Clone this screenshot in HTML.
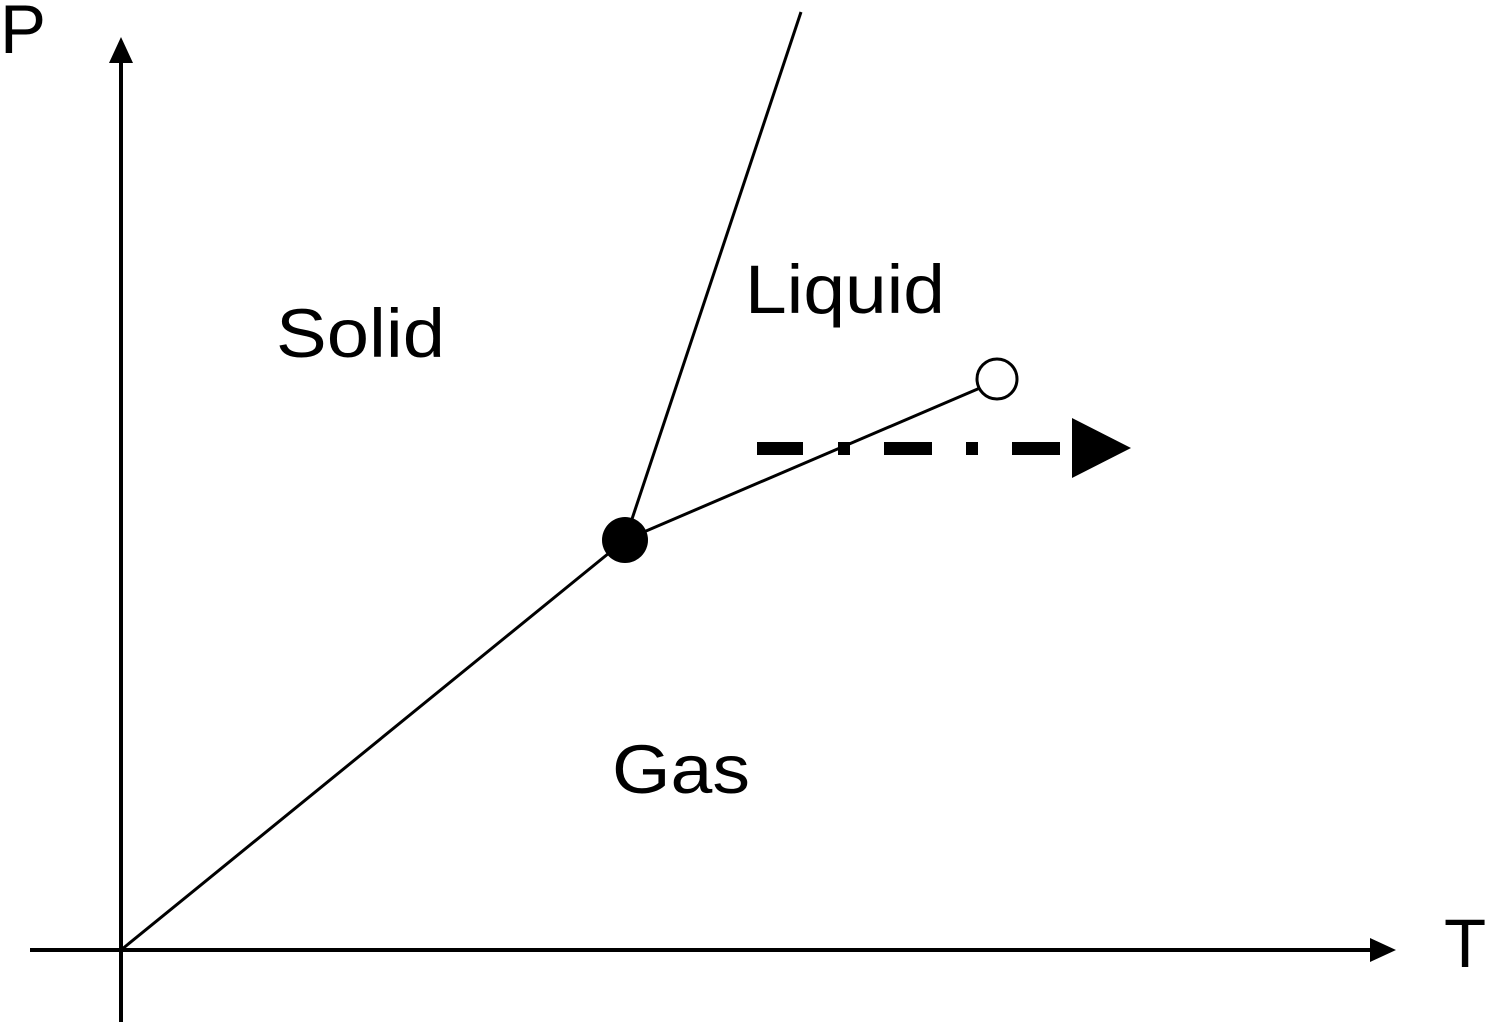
<!DOCTYPE html>
<html><head><style>html,body{margin:0;padding:0;background:#fff}svg{display:block}</style></head>
<body>
<svg width="1487" height="1024" viewBox="0 0 1487 1024" xmlns="http://www.w3.org/2000/svg" font-family="Liberation Sans, sans-serif">
<rect width="1487" height="1024" fill="#fff"/>
<line x1="121" y1="1022" x2="121" y2="60" stroke="#000" stroke-width="4"/>
<polygon points="121,37 109,63 133,63" fill="#000"/>
<line x1="30" y1="950" x2="1372" y2="950" stroke="#000" stroke-width="4"/>
<polygon points="1396,950 1370,938 1370,962" fill="#000"/>
<line x1="121" y1="950" x2="625" y2="540" stroke="#000" stroke-width="3"/>
<line x1="625" y1="540" x2="801" y2="12" stroke="#000" stroke-width="3"/>
<line x1="625" y1="540" x2="980" y2="388" stroke="#000" stroke-width="3"/>
<circle cx="625" cy="540" r="23" fill="#000"/>
<circle cx="997" cy="379" r="20" fill="#fff" stroke="#000" stroke-width="3"/>
<g fill="#000">
<rect x="757" y="442" width="46" height="13"/>
<rect x="838" y="442" width="12" height="13"/>
<rect x="884" y="442" width="48" height="13"/>
<rect x="966" y="442" width="12" height="13"/>
<rect x="1012" y="442" width="48" height="13"/>
<polygon points="1072,418 1131,448 1072,478"/>
</g>
<g font-size="69" fill="#000">
<text x="0" y="53">P</text>
<text x="1444" y="967">T</text>
<text x="276" y="357" textLength="169" lengthAdjust="spacingAndGlyphs">Solid</text>
<text x="745" y="313" textLength="200" lengthAdjust="spacingAndGlyphs">Liquid</text>
<text x="612" y="793" textLength="138" lengthAdjust="spacingAndGlyphs">Gas</text>
</g>
</svg>
</body></html>
